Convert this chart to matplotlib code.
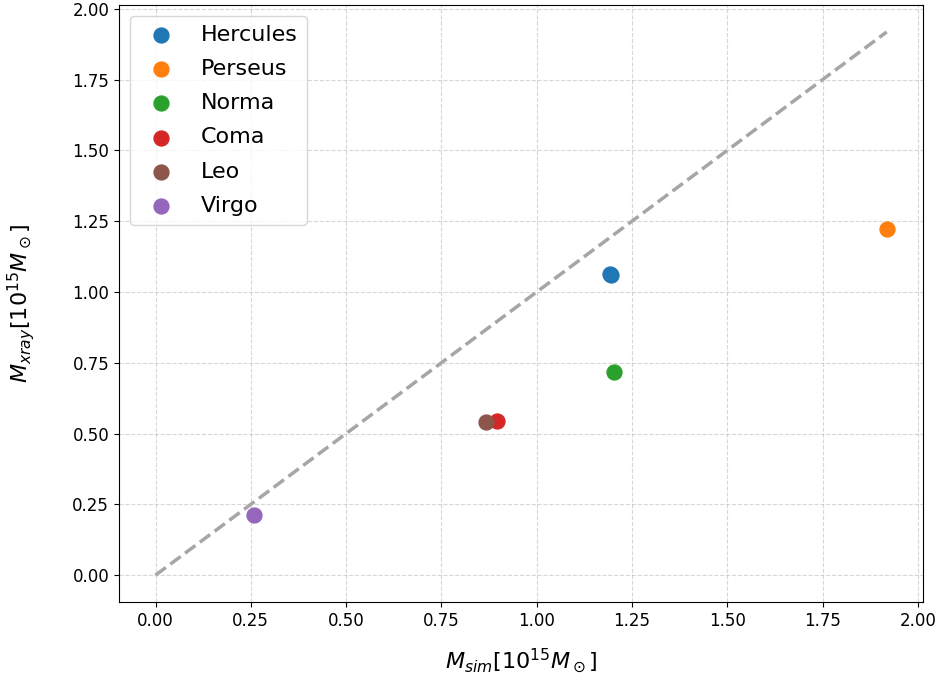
import matplotlib
matplotlib.use("Agg")
import matplotlib.pyplot as plt
import numpy as np

names = ["Hercules", "Hercules", "Perseus", "Norma", "Coma", "Leo", "Virgo"]
m_sim = [1.196, 1.193, 1.918, 1.203, 0.897, 0.866, 0.258]
m_xray = [1.059, 1.064, 1.221, 0.719, 0.545, 0.542, 0.213]
colors = ["#1f77b4", "#1f77b4", "#ff7f0e", "#2ca02c", "#d62728", "#8c564b", "#9467bd"]

fig = plt.figure(figsize=(9.44, 6.86), dpi=100)
ax = fig.add_axes([0.126, 0.122, 0.852, 0.871])

lim = max(m_sim)
ax.plot([0, lim], [0, lim], ls="--", color="gray", alpha=0.7, lw=2.5, zorder=1)
seen = set()
for n, x, y, c in zip(names, m_sim, m_xray, colors):
    lab = n if n not in seen else "_" + n
    seen.add(n)
    ax.scatter(x, y, s=115, color=c, label=lab, zorder=3)

ax.grid(True, ls="--", alpha=0.5, zorder=0)
ax.set_xlabel(r"$M_{sim} [10^{15} M_\odot]$", fontsize=16, labelpad=12)
ax.set_ylabel(r"$M_{xray} [10^{15} M_\odot]$", fontsize=16, labelpad=25)
ax.tick_params(labelsize=12)
ax.legend(fontsize=16, loc="upper left", labelspacing=0.64)

fig.savefig("out.png", dpi=100)
